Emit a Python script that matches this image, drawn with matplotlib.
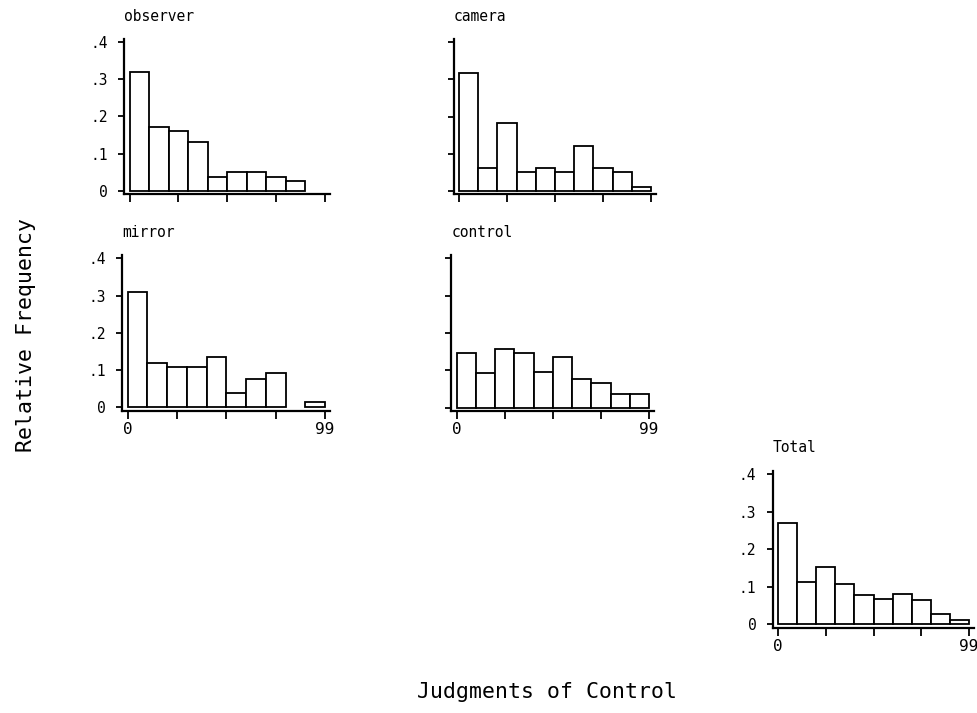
import matplotlib
matplotlib.use("Agg")
import matplotlib.pyplot as plt
import numpy as np

plt.rcParams['font.family'] = ['DejaVu Sans Mono']

# ---- data ----
bin_edges = [0, 10, 20, 30, 40, 50, 60, 70, 80, 90, 100]
observer = [0.32, 0.173, 0.161, 0.132, 0.038, 0.051, 0.050, 0.038, 0.026, 0.0]
camera   = [0.317, 0.063, 0.184, 0.050, 0.063, 0.052, 0.120, 0.063, 0.050, 0.010]
mirror   = [0.310, 0.120, 0.108, 0.108, 0.134, 0.038, 0.077, 0.093, 0.0, 0.013]
control  = [0.146, 0.093, 0.158, 0.146, 0.095, 0.136, 0.078, 0.065, 0.038, 0.038]
total    = [0.270, 0.112, 0.153, 0.108, 0.079, 0.067, 0.080, 0.065, 0.027, 0.011]

panel_titles = ["observer", "camera", "mirror", "control", "Total"]
ytick_vals = [0, 0.1, 0.2, 0.3, 0.4]
ytick_labels = ["0", ".1", ".2", ".3", ".4"]
xtick_vals = [0, 25, 50, 75, 100]
xtick_labels = ["0", "", "", "", "99"]

W, H = 977, 713
fig = plt.figure(figsize=(W / 100, H / 100), dpi=100)

XLIM = (-2.6, 102.5)
YLIM = (-0.009, 0.41)

# (x pixel of 0, x pixel of 100, y pixel of 0, y pixel of 0.4, show ylabels, show xlabels)
geom = [
    (129.5, 325.0, 190.7, 42.3, True, False),
    (459.0, 651.0, 191.0, 42.3, False, False),
    (127.5, 325.0, 407.3, 258.3, True, True),
    (456.5, 649.0, 407.7, 258.3, False, True),
    (778.0, 969.0, 624.3, 474.3, True, True),
]
series = [observer, camera, mirror, control, total]

for title, vals, (x0, x1, y0, y4, showy, showx) in zip(panel_titles, series, geom):
    px = lambda v: x0 + v / 100 * (x1 - x0)
    py = lambda v: y0 + v / 0.4 * (y4 - y0)
    left = px(XLIM[0]) / W
    right = px(XLIM[1]) / W
    bottom = 1 - py(YLIM[0]) / H
    top = 1 - py(YLIM[1]) / H
    ax = fig.add_axes([left, bottom, right - left, top - bottom])
    lefts = np.array(bin_edges[:-1])
    widths = np.diff(bin_edges)
    v = np.array(vals)
    m = v > 0
    ax.bar(lefts[m], v[m], width=widths[m], align='edge', color='white',
           edgecolor='black', linewidth=1.3)
    ax.set_xlim(*XLIM)
    ax.set_ylim(*YLIM)
    for s in ['top', 'right']:
        ax.spines[s].set_visible(False)
    for s in ['left', 'bottom']:
        ax.spines[s].set_linewidth(1.6)
    ax.set_yticks(ytick_vals)
    ax.set_yticklabels(ytick_labels if showy else [""] * len(ytick_vals))
    ax.set_xticks(xtick_vals)
    ax.set_xticklabels(xtick_labels if showx else [""] * len(xtick_vals))
    ax.tick_params(axis='y', direction='out', length=4, width=1.3, pad=8, labelsize=10.5)
    ax.tick_params(axis='x', direction='out', length=6, width=1.3, pad=2, labelsize=11.5)
    ax.annotate(title, xy=(0, 1), xycoords='axes fraction', xytext=(0, 13),
                textcoords='offset points', ha='left', va='baseline', fontsize=10.5)

fig.text(26 / W, 1 - 335 / H, "Relative Frequency", rotation=90,
         ha='center', va='center', fontsize=15.5)
fig.text(547 / W, 1 - 692 / H, "Judgments of Control",
         ha='center', va='center', fontsize=15.5)

fig.savefig("out.png", dpi=100, facecolor='white')
